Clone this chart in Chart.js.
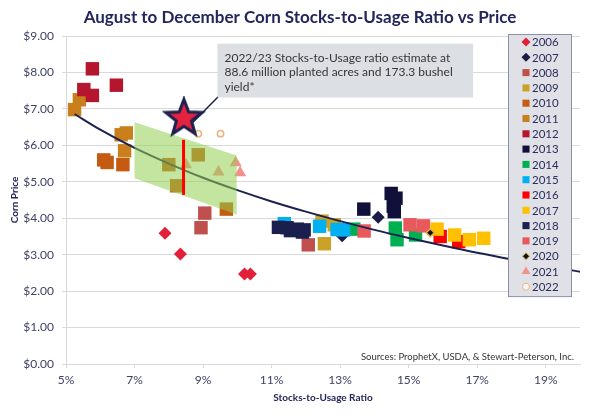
<!DOCTYPE html>
<html>
<head>
<meta charset="utf-8">
<script src="https://cdn.jsdelivr.net/npm/chart.js@4.4.0/dist/chart.umd.min.js"></script>
<style>
  html, body { margin: 0; padding: 0; background: #fff; }
  #wrap { width: 600px; height: 415px; }
</style>
</head>
<body>
<div id="wrap"><canvas id="chart" width="600" height="415"></canvas></div>
<script>
// --- Data ---
const years = ['2006', '2007', '2008', '2009', '2010', '2011', '2012', '2013', '2014',
               '2015', '2016', '2017', '2018', '2019', '2020', '2021', '2022'];

// [stocks-to-usage %, price $]
const pts2006 = [[7.89, 3.59], [8.34, 3.02], [10.21, 2.47], [10.38, 2.47]];
const pts2007 = [[14.11, 4.03], [13.06, 3.52]];
const pts2008 = [[9.05, 4.14], [8.94, 3.74], [12.07, 3.27]];
const pts2009 = [[12.47, 3.92], [12.83, 3.82], [12.54, 3.30]];
const pts2010 = [[6.10, 5.60], [6.20, 5.53], [6.66, 5.47], [8.00, 5.47], [8.86, 5.74], [8.23, 4.89], [9.68, 4.25]];
const pts2011 = [[5.25, 6.98], [5.39, 7.25], [6.61, 6.29], [6.76, 6.34], [6.71, 5.85]];
const pts2012 = [[5.77, 8.10], [6.47, 7.65], [5.52, 7.53], [5.77, 7.37]];
const pts2013 = [[14.49, 4.68], [14.63, 4.55], [14.55, 4.33], [14.58, 4.18], [13.69, 4.25]];
const pts2014 = [[14.61, 3.73], [14.66, 3.41], [15.20, 3.54], [13.40, 3.70]];
const pts2015 = [[11.37, 3.85], [12.40, 3.78], [12.91, 3.69], [13.10, 3.68]];
const pts2016 = [[15.92, 3.50], [16.46, 3.36]];
const pts2017 = [[15.83, 3.70], [16.34, 3.54], [16.77, 3.41], [17.19, 3.45]];
const pts2018 = [[11.20, 3.75], [11.45, 3.74], [11.55, 3.66], [11.75, 3.70], [11.90, 3.62], [11.95, 3.68]];
const pts2019 = [[13.70, 3.65], [15.04, 3.82], [15.43, 3.79]];
const pts2020 = [[15.63, 3.60]];
const pts2021 = [[8.50, 5.47], [9.45, 5.27], [9.95, 5.52], [10.08, 5.25]];
const pts2022 = [[8.86, 6.32], [9.51, 6.32]];

const yearPoints = [pts2006, pts2007, pts2008, pts2009, pts2010, pts2011, pts2012, pts2013, pts2014,
                    pts2015, pts2016, pts2017, pts2018, pts2019, pts2020, pts2021, pts2022];

// 2022/23 estimate
const estimate = [[8.44, 6.74]];
const estimateRange = [[8.43, 4.64], [8.43, 6.15]];
const estimateBand = [[7.0, 6.63], [9.98, 5.72], [9.98, 4.10], [7.0, 5.10]];

// trend line read at whole-percent steps
const trendX = [5.25, 6, 7, 8, 9, 10, 11, 12, 13, 14, 15, 16, 17, 18, 19, 20];
const trendY = [6.86, 6.43, 5.93, 5.50, 5.11, 4.77, 4.46, 4.18, 3.92, 3.68, 3.46, 3.25, 3.05, 2.87, 2.69, 2.53];

const xTicks = [5, 7, 9, 11, 13, 15, 17, 19];

// --- Styles ---
const yearStyle = {
  '2006': { shape: 'rectRot', color: '#e2203a', r: 6.5, lr: 4.5 },
  '2007': { shape: 'rectRot', color: '#1a1c47', r: 6.5, lr: 4.5 },
  '2008': { shape: 'rect', color: '#c0504d', r: 9.5, lr: 5 },
  '2009': { shape: 'rect', color: '#c9a227', r: 9.5, lr: 5 },
  '2010': { shape: 'rect', color: '#c55a11', r: 9.5, lr: 5 },
  '2011': { shape: 'rect', color: '#c9801c', r: 9.5, lr: 5 },
  '2012': { shape: 'rect', color: '#b3162e', r: 9.5, lr: 5 },
  '2013': { shape: 'rect', color: '#10103a', r: 9.5, lr: 5 },
  '2014': { shape: 'rect', color: '#00b050', r: 9.5, lr: 5 },
  '2015': { shape: 'rect', color: '#00b0f0', r: 9.5, lr: 5 },
  '2016': { shape: 'rect', color: '#ff0000', r: 9.5, lr: 5 },
  '2017': { shape: 'rect', color: '#ffc000', r: 9.5, lr: 5 },
  '2018': { shape: 'rect', color: '#1b1f4d', r: 9.5, lr: 5 },
  '2019': { shape: 'rect', color: '#e8595d', r: 9.5, lr: 5 },
  '2020': { shape: 'rectRot', color: '#111111', border: '#e0b040', r: 4, lr: 3.5 },
  '2021': { shape: 'triangle', color: '#f4908c', r: 7, lr: 5 },
  '2022': { shape: 'circle', color: 'rgba(255,255,255,0.7)', border: '#f2b27c', r: 3.2, lr: 3.5 }
};

const FONT = 'Lato';
const NAVY = '#22265a';
const LABEL = '#3f4266';
const TITLE = 'August to December Corn Stocks-to-Usage Ratio vs Price';

// five-pointed star used as point image
function makeStar(r) {
  const c = document.createElement('canvas');
  const size = Math.ceil(r * 2 + 6);
  c.width = size; c.height = size;
  const g = c.getContext('2d');
  g.beginPath();
  for (let i = 0; i < 10; i++) {
    const rad = i % 2 ? r * 0.42 : r;
    const a = -Math.PI / 2 + i * Math.PI / 5;
    g.lineTo(size / 2 + rad * Math.cos(a), size / 2 + rad * Math.sin(a));
  }
  g.closePath();
  g.fillStyle = '#e3233f';
  g.fill();
  g.lineWidth = 3;
  g.strokeStyle = '#1d2150';
  g.stroke();
  return c;
}

const toXY = arr => arr.map(p => ({ x: p[0], y: p[1] }));

const yearDatasets = years.map((yr, i) => {
  const st = yearStyle[yr];
  return {
    label: yr,
    data: toXY(yearPoints[i]),
    pointStyle: st.shape,
    pointRadius: st.r,
    pointHoverRadius: st.r,
    backgroundColor: st.color,
    borderColor: st.border || st.color,
    borderWidth: st.border ? 1.5 : 0,
    order: 100 - i
  };
});

const extraDatasets = [
  {
    label: 'estimate',
    data: toXY(estimate),
    pointStyle: makeStar(19),
    pointRadius: 19,
    order: 0
  },
  {
    type: 'line',
    label: 'range',
    data: toXY(estimateRange),
    borderColor: '#ff0000',
    borderWidth: 3,
    pointRadius: 0,
    fill: false,
    order: 1
  },
  {
    type: 'line',
    label: 'band',
    data: toXY(estimateBand),
    borderWidth: 0,
    borderColor: 'rgba(0,0,0,0)',
    backgroundColor: 'rgba(146, 208, 80, 0.55)',
    pointRadius: 0,
    fill: 'shape',
    tension: 0,
    order: 2
  },
  {
    type: 'line',
    label: 'trend',
    data: trendX.map((x, i) => ({ x: x, y: trendY[i] })),
    borderColor: '#1d2150',
    borderWidth: 2,
    pointRadius: 0,
    fill: false,
    tension: 0.4,
    cubicInterpolationMode: 'monotone',
    order: 3
  }
];

// Legend box in the upper right of the plot
const boxLegend = {
  id: 'boxLegend',
  afterDraw(chart) {
    const ctx = chart.ctx;
    const area = chart.chartArea;
    const w = 63, rowH = 15.3;
    const left = area.right - 72;
    const top = area.top - 2;
    const h = rowH * years.length + 2;
    ctx.save();
    ctx.fillStyle = '#dfe1e6';
    ctx.fillRect(left, top, w, h);
    ctx.strokeStyle = '#8e91a6';
    ctx.lineWidth = 1;
    ctx.strokeRect(left + 0.5, top + 0.5, w, h);
    ctx.font = '11.5px ' + FONT;
    ctx.textBaseline = 'middle';
    years.forEach((yr, i) => {
      const st = yearStyle[yr];
      const y = top + 8 + i * rowH;
      ctx.fillStyle = st.color;
      ctx.strokeStyle = st.border || st.color;
      Chart.helpers.drawPoint(ctx, {
        pointStyle: st.shape, radius: st.lr, rotation: 0,
        borderWidth: st.border ? 1.2 : 0
      }, left + 18, y);
      ctx.fillStyle = '#2b2d5c';
      ctx.fillText(yr, left + 24, y + 0.5);
    });
    ctx.restore();
  }
};

// Title, call-out box with its leader line, and the sources note
const notes = {
  id: 'notes',
  afterDraw(chart) {
    const ctx = chart.ctx;
    const xs = chart.scales.x, ys = chart.scales.y;
    const area = chart.chartArea;
    ctx.save();
    ctx.fillStyle = NAVY;
    ctx.font = 'bold 17px ' + FONT;
    ctx.textAlign = 'center';
    ctx.textBaseline = 'middle';
    ctx.fillText(TITLE, chart.width / 2, 18);
    ctx.textAlign = 'left';

    const bx0 = xs.getPixelForValue(9.42), bx1 = xs.getPixelForValue(16.88);
    const by0 = ys.getPixelForValue(8.79), by1 = ys.getPixelForValue(7.31);
    ctx.strokeStyle = '#1d2150';
    ctx.lineWidth = 1.5;
    ctx.beginPath();
    ctx.moveTo(bx0 + 1, by1 - 1);
    ctx.lineTo(xs.getPixelForValue(8.69), ys.getPixelForValue(6.62));
    ctx.stroke();
    ctx.fillStyle = '#dcdfe4';
    ctx.fillRect(bx0, by0, bx1 - bx0, by1 - by0);
    ctx.fillStyle = '#363636';
    ctx.font = '12px ' + FONT;
    const lines = ['2022/23 Stocks-to-Usage ratio estimate at',
                   '88.6 million planted acres and 173.3 bushel',
                   'yield*'];
    lines.forEach((t, i) => ctx.fillText(t, bx0 + 7, by0 + 14 + i * 14.5));

    ctx.fillStyle = '#333333';
    ctx.font = '9.5px ' + FONT;
    ctx.textAlign = 'right';
    ctx.fillText('Sources: ProphetX, USDA, & Stewart-Peterson, Inc.', area.right - 6, area.bottom - 7);
    ctx.restore();
  }
};

new Chart(document.getElementById('chart'), {
  type: 'scatter',
  data: { datasets: yearDatasets.concat(extraDatasets) },
  options: {
    responsive: false,
    animation: false,
    events: [],
    layout: { padding: { left: 0, right: 18, top: 36, bottom: 0 } },
    plugins: {
      legend: { display: false },
      tooltip: { enabled: false },
      title: { display: false }
    },
    scales: {
      x: {
        type: 'linear',
        min: 5,
        max: 20,
        afterBuildTicks: s => { s.ticks = xTicks.map(v => ({ value: v })); },
        afterFit: s => { s.height = 51; },
        grid: { drawOnChartArea: false, tickLength: 4, color: '#d9d9d9' },
        border: { color: '#d9d9d9' },
        ticks: {
          padding: 5,
          color: LABEL,
          font: { family: FONT, size: 12 },
          callback: v => v + '%'
        },
        title: {
          display: true,
          text: 'Stocks-to-Usage Ratio',
          color: NAVY,
          font: { family: FONT, size: 10, weight: 'bold' },
          padding: { top: 0, bottom: 11 }
        }
      },
      y: {
        min: 0,
        max: 9,
        afterFit: s => { s.width = 66; },
        grid: { color: '#d9d9d9', tickLength: 4 },
        border: { color: '#d9d9d9' },
        ticks: {
          stepSize: 1,
          padding: 8,
          color: LABEL,
          font: { family: FONT, size: 12 },
          callback: v => '$' + v.toFixed(2)
        },
        title: {
          display: true,
          text: 'Corn Price',
          color: NAVY,
          font: { family: FONT, size: 10, weight: 'bold' },
          padding: { top: 9, bottom: 0 }
        }
      }
    }
  },
  plugins: [boxLegend, notes]
});
</script>
</body>
</html>
